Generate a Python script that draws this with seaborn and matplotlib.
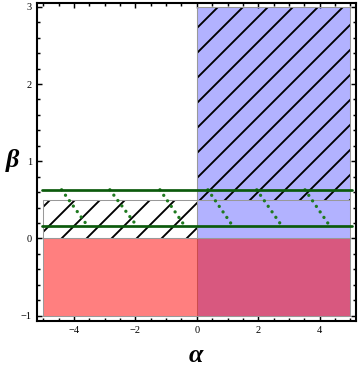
import matplotlib
matplotlib.use('Agg')
import matplotlib.pyplot as plt
import seaborn as sns
import pandas as pd

# regions (alpha range, beta range)
blue_alpha = [0, 5]
blue_beta = [-1, 3]
red_alpha = [-5, 5]
red_beta = [-1, 0]
hatch_left_alpha = [-5, 0]
hatch_left_beta = [0, 0.5]
hatch_right_alpha = [0, 5]
hatch_right_beta = [0.5, 3]

# green boundary lines
line_alpha = [-5.05, 5.05]
line_betas = [0.63, 0.16]
dot_starts = [-4.4, -2.83, -1.2, 0.36, 1.95, 3.52]
dot_ends = [-3.55, -1.95, -0.39, 1.17, 2.77, 4.33]

xticks = [-4, -2, 0, 2, 4]
yticks = [-1, 0, 1, 2, 3]

sns.set_style('ticks')
plt.rcParams['font.family'] = ['Liberation Serif', 'DejaVu Serif']
plt.rcParams['hatch.linewidth'] = 0.9

fig = plt.figure(figsize=(2.4, 370/150), dpi=150)
ax = fig.add_axes([37/360, 1-321/370, (356-37)/360, (321-3)/370])

# blue region, then red on top
ax.fill_between(blue_alpha, blue_beta[0], blue_beta[1], facecolor=(0, 0, 1, 0.3),
                edgecolor='#999999', linewidth=0.5, zorder=1)
ax.fill_between(red_alpha, red_beta[0], red_beta[1], facecolor=(1, 0, 0, 0.5),
                edgecolor='#999999', linewidth=0.5, zorder=2)

# hatched regions
for a, b in [(hatch_left_alpha, hatch_left_beta), (hatch_right_alpha, hatch_right_beta)]:
    ax.fill_between(a, b[0], b[1], facecolor='none', edgecolor='black', hatch='//',
                    linewidth=0, zorder=3)
    ax.fill_between(a, b[0], b[1], facecolor='none', edgecolor='#999999',
                    linewidth=0.5, zorder=3)

green = '#0b5a0b'
for b in line_betas:
    df = pd.DataFrame({'alpha': line_alpha, 'beta': [b, b]})
    sns.lineplot(data=df, x='alpha', y='beta', color=green, linewidth=1.3,
                 estimator=None, ax=ax, zorder=5)
for s, e in zip(dot_starts, dot_ends):
    df = pd.DataFrame({'alpha': [s, e], 'beta': line_betas})
    sns.lineplot(data=df, x='alpha', y='beta', color='#1f7a1f', linewidth=1.6,
                 linestyle=(0, (0.01, 2.0)), dash_capstyle='round',
                 estimator=None, sort=False, ax=ax, zorder=4)

ax.set_xlim(-5.2, 5.18)
ax.set_ylim(-1.07, 3.05)
ax.set_xticks(xticks)
ax.set_yticks(yticks)
ax.set_xticks([v / 2 for v in range(-10, 11)], minor=True)
ax.set_yticks([v / 5 for v in range(-5, 16)], minor=True)
ax.tick_params(which='both', direction='in', top=True, right=True, labelsize=5,
               width=0.7, pad=2.5, colors='black')
ax.tick_params(which='major', length=2.6)
ax.tick_params(which='minor', length=1.4)
for sp in ax.spines.values():
    sp.set_linewidth(1.0)
    sp.set_color('black')

ax.set_xlabel('')
ax.set_ylabel('')
fig.text(196/360, 1-356/370, 'α', fontsize=12.5, fontweight='bold', style='italic',
         ha='center', va='center', color='black')
fig.text(12/360, 1-160/370, 'β', fontsize=12.5, fontweight='bold', style='italic',
         ha='center', va='center', color='black')

fig.savefig('out.png', dpi=150)
